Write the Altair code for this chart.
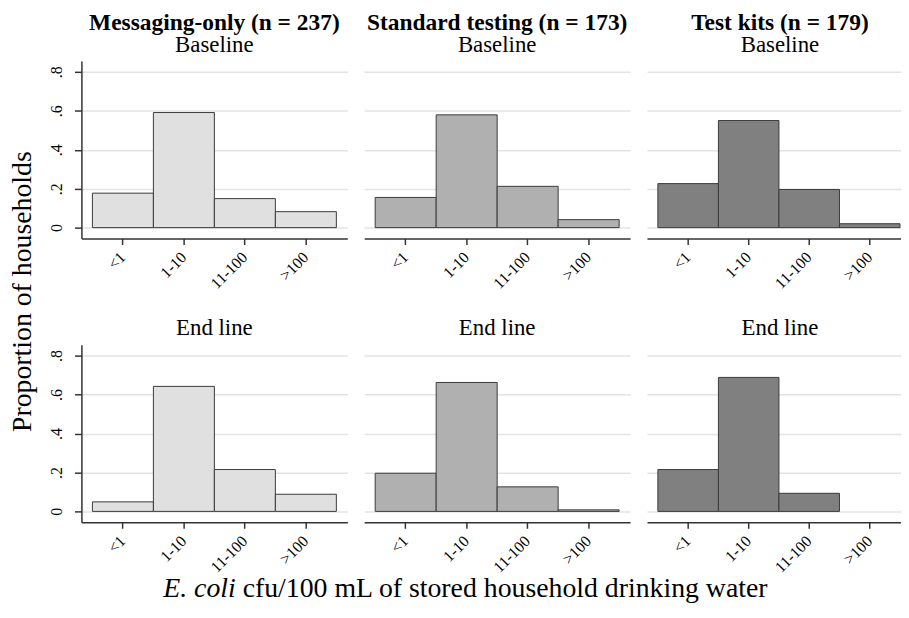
import altair as alt
import pandas as pd

cats = ["<1", "1-10", "11-100", ">100"]

group_titles = ["Messaging-only (n = 237)", "Standard testing (n = 173)", "Test kits (n = 179)"]
time_titles = ["Baseline", "End line"]

messaging_baseline = [0.177, 0.591, 0.149, 0.082]
standard_baseline = [0.155, 0.579, 0.212, 0.041]
kits_baseline = [0.226, 0.550, 0.196, 0.020]
messaging_endline = [0.049, 0.642, 0.215, 0.088]
standard_endline = [0.196, 0.662, 0.126, 0.008]
kits_endline = [0.215, 0.688, 0.093, 0.0]

fills = ["#e0e0e0", "#b0b0b0", "#808080"]
y_ticks = [0, 0.2, 0.4, 0.6, 0.8]
y_lo, y_hi = -0.056, 0.856

FONT = "Liberation Serif"
W, H = 268, 179
W_LAST = 256  # last column is cut by the page edge in the reference

rows = [
    [messaging_baseline, standard_baseline, kits_baseline],
    [messaging_endline, standard_endline, kits_endline],
]


def panel(vals, r, c):
    df = pd.DataFrame({"cat": cats, "value": vals})
    last = c == 2

    if c == 0:
        yaxis_kw = dict(
            values=y_ticks,
            labelExpr="datum.value == 0 ? '0' : replace(format(datum.value, '.1f'), '0.', '.')",
            labelAngle=270, labelAlign="center", labelBaseline="bottom",
            labelFontSize=16, tickSize=7, labelPadding=10, grid=True,
        )
        if r == 0:
            yaxis_kw.update(title="Proportion of households", titleAngle=270, titleX=-51, titleY=232,
                            titleAlign="center", titleBaseline="alphabetic", titleFontSize=28,
                            titleFontWeight="normal")
        else:
            yaxis_kw.update(title=None)
    else:
        yaxis_kw = dict(values=y_ticks, labels=False, ticks=False, domain=False, grid=True, title=None)

    xaxis_kw = dict(labelAngle=315, labelAlign="right", labelBaseline="middle", labelFontSize=16,
                    tickSize=6, labelPadding=10, grid=False, title=None)
    if r == 1 and c == 0:
        xaxis_kw.update(title="E. coli", titleFontStyle="italic", titleFontSize=28, titleFontWeight="normal",
                        titleX=155, titleY=75, titleAlign="right", titleBaseline="alphabetic")
    if r == 1 and c == 1:
        xaxis_kw.update(title="cfu/100 mL of stored household drinking water", titleFontSize=28,
                        titleFontWeight="normal", titleX=-123, titleY=75, titleAlign="left",
                        titleBaseline="alphabetic")

    dx = (W - W_LAST) / 2 if last else 0
    if r == 0:
        title = alt.TitleParams(text=group_titles[c], subtitle=time_titles[0], font=FONT, fontSize=23.6,
                                fontWeight="bold", subtitleFont=FONT, subtitleFontSize=23,
                                subtitleFontWeight="normal", color="black", subtitleColor="black",
                                anchor="middle", offset=4, subtitlePadding=0, dx=dx)
    else:
        title = alt.TitleParams(text=time_titles[1], font=FONT, fontSize=23, fontWeight="normal",
                                color="black", anchor="middle", offset=5, dx=dx)

    if last:
        # same band step as the full-width panels, narrower right margin
        xscale = alt.Scale(domain=cats, paddingInner=0, paddingOuter=0.098, align=0.917)
    else:
        xscale = alt.Scale(domain=cats, paddingInner=0, paddingOuter=0.18)

    return (
        alt.Chart(df)
        .transform_filter("datum.value > 0")
        .mark_bar(fill=fills[c], stroke="#3a3a3a", strokeWidth=1)
        .encode(
            x=alt.X("cat:N", sort=cats, scale=xscale, axis=alt.Axis(**xaxis_kw)),
            y=alt.Y("value:Q", scale=alt.Scale(domain=[y_lo, y_hi], nice=False, zero=False),
                    axis=alt.Axis(**yaxis_kw)),
            y2=alt.datum(0),
        )
        .properties(width=W_LAST if last else W, height=H, title=title)
    )


charts = [panel(rows[r][c], r, c) for r in range(2) for c in range(3)]

chart = (
    alt.concat(*charts, columns=3, spacing={"row": 107, "column": 17}, bounds="flush")
    .properties(padding={"left": 0, "top": 0, "right": 0, "bottom": 0}, background="white")
    .configure_view(stroke=None)
    .configure_axis(labelFont=FONT, titleFont=FONT, labelColor="black", titleColor="black",
                    domainColor="#333333", tickColor="#333333", domainWidth=1.5, tickWidth=1.5,
                    gridColor="#e3e3e3", gridWidth=1.5)
)

chart.save("out.html", embed_options={"renderer": "svg", "actions": False})
